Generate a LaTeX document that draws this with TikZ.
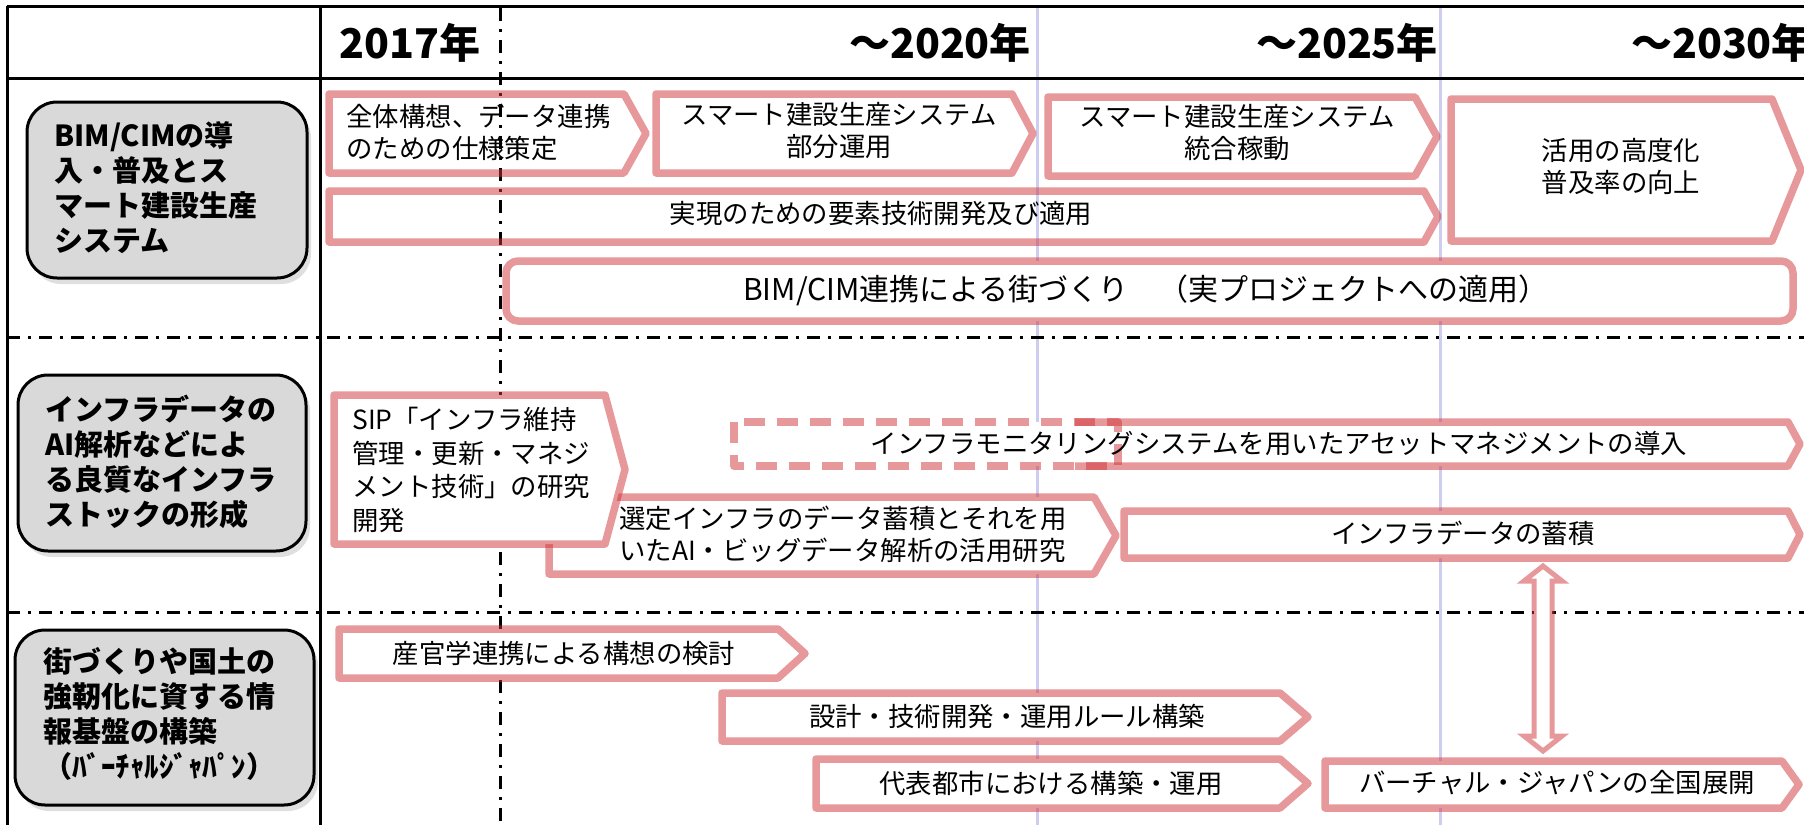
\documentclass[tikz,border=0pt]{standalone}
\usepackage{fontspec}
\setmainfont{Noto Sans CJK JP}
\usetikzlibrary{shadows,calc}
\definecolor{pk}{RGB}{207,50,55}
\definecolor{lav}{RGB}{205,205,240}
\definecolor{lblgray}{RGB}{217,217,217}
\tikzset{
  box/.style={draw=pk, draw opacity=0.5, line width=3.75pt, line join=round},
  wbox/.style={box, fill=white},
  txt/.style={inner sep=0pt, font=\fontsize{13.2}{16}\selectfont, align=center},
  ltxt/.style={txt, align=left, anchor=west},
  lblbox/.style={draw=black, line width=1.5pt, fill=lblgray, rounded corners=15pt,
    drop shadow={opacity=0.25, shadow xshift=2pt, shadow yshift=-3pt}},
  lbltxt/.style={inner sep=0pt, font=\bfseries\fontsize{14.5}{17.5}\selectfont, align=left, anchor=west},
  hdr/.style={inner sep=0pt, font=\bfseries\fontsize{20.5}{24}\selectfont},
  blk/.style={draw=black, line width=1.5pt},
  dashdot/.style={draw=black, line width=1.5pt, dash pattern=on 6.5pt off 4pt on 1.5pt off 4pt},
  lavline/.style={draw=lav, line width=1.5pt},
  darr/.style={draw=pk, draw opacity=0.5, fill=white, line width=2.5pt, line join=miter},
}
% chevron: [opts]{x1}{y1}{tip x}{y2}{depth}
\newcommand{\chev}[6][]{\draw[box,#1] (#2,#3) -- ({#4-#6},#3) -- (#4,{(#3+#5)/2}) -- ({#4-#6},#5) -- (#2,#5) -- cycle;}
\begin{document}
\begin{tikzpicture}[x=0.5pt,y=-0.5pt]
\useasboundingbox (0,0) rectangle (1804,825);
% lavender year lines
\draw[lavline] (1037,8) -- (1037,825);
\draw[lavline] (1440,8) -- (1440,825);
% table lines
\draw[blk] (7,6) -- (1804,6);
\draw[blk] (7,78) -- (1804,78);
\draw[blk] (7,6) -- (7,825);
\draw[blk] (320,6) -- (320,825);
\draw[dashdot] (7,337) -- (1804,337);
\draw[dashdot] (7,612) -- (1804,612);
\draw[dashdot] (500,8) -- (500,825);
% header
\node[hdr] (h2017) at (410,43) {2017年};
\node[hdr] (h2020) at (940,43) {～2020年};
\node[hdr] (h2025) at (1347,43) {～2025年};
\node[hdr] (h2030) at (1722,43) {～2030年};
% row labels
\draw[lblbox] (27,102) rectangle (307,278);
\draw[lblbox] (18,375) rectangle (306,551);
\draw[lblbox] (15,630) rectangle (314,805);
\node[lbltxt] (l1) at (54,188) {BIM/CIMの導\\入・普及とス\\マート建設生産\\システム};
\node[lbltxt] (l2) at (45,462) {インフラデータの\\AI解析などによ\\る良質なインフラ\\ストックの形成};
\node[lbltxt] (l3) at (43,714) {街づくりや国土の\\強靭化に資する情\\報基盤の構築\\（ﾊﾞｰﾁｬﾙｼﾞｬﾊﾟﾝ）};
% row 1
\chev{329}{94}{646}{173}{22}
\chev{656}{94}{1033}{173}{21}
\chev{1048}{97}{1437}{176}{22}
\chev{329}{191}{1438}{242}{14}
\chev{1451}{99}{1801}{241}{29}
\draw[wbox, rounded corners=6pt] (506,261) rectangle (1793,321);
% row 2
\chev[fill=white]{549}{497}{1116}{574}{22}
\chev[fill=white]{334}{395}{625}{544}{20}
\fill[white] (734,422) rectangle (1118,466);
\fill[white] (1075,422) -- (1788,422) -- (1800,444) -- (1788,466) -- (1075,466) -- cycle;
\draw[box] (1075,422) -- (1788,422) -- (1800,444) -- (1788,466) -- (1075,466);
\draw[box, dash pattern=on 10.5pt off 6pt] (734,422) rectangle (1118,466);
\chev[fill=white]{1124}{511}{1800}{558}{12}
% row 3
\chev[fill=white]{339}{629}{805}{678}{27}
\chev[fill=white]{722}{693}{1308}{741}{28}
\chev[fill=white]{816}{759}{1308}{808}{28}
\chev[fill=white]{1325}{761}{1799}{808}{17}
% double arrow between infra data and virtual japan
\coordinate (au) at (1543,566);
\coordinate (ad) at (1543,751);
\draw[darr] (au) -- ++(19,15) -- ++(-10,0) -- ($(ad)+(9,-15)$) -- ++(10,0) -- (ad)
  -- ++(-19,-15) -- ++(10,0) -- ($(au)+(-9,15)$) -- ++(-10,0) -- cycle;
% texts row 1
\node[ltxt] (ta) at (346,132) {全体構想、データ連携\\のための仕様策定};
\node[txt] (tb) at (839,131) {スマート建設生産システム\\部分運用};
\node[txt] (tc) at (1237,133) {スマート建設生産システム\\統合稼動};
\node[txt] (td) at (881,214) {実現のための要素技術開発及び適用};
\node[txt] (te) at (1621,166) {活用の高度化\\普及率の向上};
\node[txt, font=\fontsize{15}{17}\selectfont] (tf) at (1146,290) {BIM/CIM連携による街づくり　（実プロジェクトへの適用）};
% texts row 2
\node[ltxt, font=\fontsize{13.2}{16.75}\selectfont] (tsip) at (352,470) {SIP「インフラ維持\\管理・更新・マネジ\\メント技術」の研究\\開発};
\node[ltxt] (tsel) at (619,534) {選定インフラのデータ蓄積とそれを用\\いたAI・ビッグデータ解析の活用研究};
\node[txt] (tmon) at (1279,443) {インフラモニタリングシステムを用いたアセットマネジメントの導入};
\node[txt] (tacc) at (1463,533) {インフラデータの蓄積};
% texts row 3
\node[txt] (t31) at (564,653) {産官学連携による構想の検討};
\node[txt] (t32) at (1007,716) {設計・技術開発・運用ルール構築};
\node[txt] (t33) at (1051,783) {代表都市における構築・運用};
\node[txt] (t34) at (1557,783) {バーチャル・ジャパンの全国展開};
\end{tikzpicture}
\end{document}
